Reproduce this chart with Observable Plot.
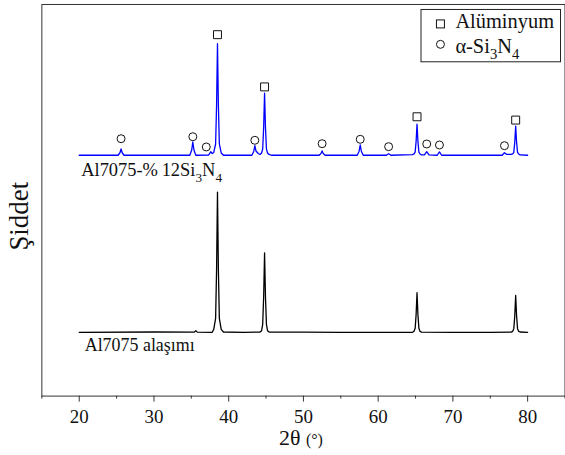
<!DOCTYPE html>
<html>
<head>
<meta charset="utf-8">
<script src="https://cdn.jsdelivr.net/npm/d3@7"></script>
<script src="https://cdn.jsdelivr.net/npm/@observablehq/plot@0.6"></script>
<style>
  html, body { margin: 0; padding: 0; background: #fff; overflow: hidden; }
  svg { display: block; }
  svg, svg text, svg tspan { font-family: "Liberation Serif", "Times New Roman", Tinos !important; }
</style>
</head>
<body>
<div id="chart"></div>
<script>
// ---- Data ----
// Al7075 alloy (black pattern)
const alloyAngle = [20, 30, 35.4, 35.6, 35.8, 37.8, 38.0, 38.25, 38.38, 38.5, 38.62, 38.75, 39.0, 39.3,
  42, 44.2, 44.4, 44.55, 44.68, 44.8, 44.92, 45.05, 45.2, 45.4, 50, 55, 60,
  64.6, 64.8, 64.95, 65.08, 65.2, 65.32, 65.45, 65.6, 65.8, 70, 75,
  77.8, 78.0, 78.15, 78.28, 78.4, 78.52, 78.65, 78.8, 79.0, 80];
const alloyIntensity = [64, 64.3, 64.2, 65.6, 64.2, 64, 67, 78, 127, 204.7, 127, 78, 67, 64.3,
  64, 64.3, 65.6, 72, 100, 143.7, 100, 72, 65.6, 64.3, 64.2, 64, 64,
  64, 65, 68, 82, 103.7, 82, 68, 65, 64.2, 64, 64,
  64.2, 65, 67.7, 80.6, 101, 80.6, 67.7, 65, 64.3, 64];

// Al7075-%12Si3N4 composite (blue pattern)
const compAngle = [20, 25.2, 25.45, 25.6, 25.75, 26.0, 34.8, 35.05, 35.2, 35.35, 35.6,
  37.3, 37.6, 37.8, 38.0, 38.25, 38.38, 38.5, 38.62, 38.75, 39.0, 39.3,
  43.1, 43.35, 43.5, 43.65, 43.95, 44.2, 44.4, 44.55, 44.68, 44.8, 44.92, 45.05, 45.2, 45.4, 45.7,
  52.1, 52.35, 52.5, 52.65, 52.9, 57.2, 57.45, 57.6, 57.75, 58.0, 61.1, 61.4, 61.7,
  64.6, 64.8, 64.95, 65.08, 65.2, 65.32, 65.45, 65.6, 65.8, 66.2, 66.5, 66.8,
  67.9, 68.2, 68.5, 76.6, 76.9, 77.2, 77.8, 78.0, 78.15, 78.28, 78.4, 78.52, 78.65, 78.8, 79.0, 80];
const compIntensity = [241.7, 241.7, 244.2, 248, 244.2, 241.7, 241.7, 247, 255, 247, 241.7,
  241.9, 245.2, 243.5, 244.5, 253, 292, 353.7, 292, 253, 244, 241.7,
  241.7, 245.5, 251.3, 246, 243.5, 242.5, 244, 248, 269.7, 304, 269.7, 248, 244, 242.5, 241.7,
  241.7, 243.4, 246, 243.4, 241.7, 241.7, 245.8, 252, 245.8, 241.7, 241.7, 243.2, 241.7,
  242.3, 243, 244.8, 255.8, 273, 255.8, 244.8, 243, 242, 242, 245.3, 242,
  241.7, 245, 241.7, 241.7, 244.3, 242.5, 242.5, 243, 244.6, 254.9, 271, 254.9, 244.6, 243, 242, 241.7];

// Phase markers
const aluminiumAngle = [38.5, 44.8, 65.2, 78.4];
const aluminiumLevel = [362.7, 310.3, 280.3, 277];
const nitrideAngle = [25.6, 35.2, 37.0, 43.5, 52.5, 57.6, 61.4, 66.5, 68.2, 76.9];
const nitrideLevel = [258.3, 260.3, 250, 256.7, 253.3, 257.7, 250.3, 253, 252, 251.3];

// Axis ticks
const majorTicks = [20, 30, 40, 50, 60, 70, 80];
const minorTicks = [15, 25, 35, 45, 55, 65, 75, 85];

// ---- Build ----
const alloy = alloyAngle.map((a, k) => ({a, i: alloyIntensity[k]}));
const comp = compAngle.map((a, k) => ({a, i: compIntensity[k]}));
const alu = aluminiumAngle.map((a, k) => ({a, i: aluminiumLevel[k]}));
const nit = nitrideAngle.map((a, k) => ({a, i: nitrideLevel[k]}));

const FONT = '"Liberation Serif", "Times New Roman", Tinos';
const INK = "#333";

const plot = Plot.plot({
  width: 567,
  height: 455,
  marginLeft: 41.5,
  marginRight: 0.5,
  marginTop: 4,
  marginBottom: 58,
  style: {fontFamily: FONT, fontSize: "19px", background: "#fff", color: "#000"},
  x: {domain: [15, 85], label: null},
  y: {domain: [0, 393], axis: null},
  marks: [
    Plot.frame({stroke: INK, strokeWidth: 1}),
    Plot.axisX(minorTicks, {tickSize: 3, tickFormat: () => "", stroke: INK, label: null}),
    Plot.axisX(majorTicks, {tickSize: 6, tickPadding: 7, fontSize: 19, stroke: INK, fill: "#111", label: null}),
    Plot.line(alloy, {x: "a", y: "i", stroke: "#000", strokeWidth: 1.3}),
    Plot.line(comp, {x: "a", y: "i", stroke: "#0000ff", strokeWidth: 1.3}),
    Plot.dot(alu, {x: "a", y: "i", symbol: "square", r: 4.5, stroke: "#111", fill: "#fff", strokeWidth: 1}),
    Plot.dot(nit, {x: "a", y: "i", symbol: "circle", r: 4, stroke: "#111", fill: "#fff", strokeWidth: 1})
  ]
});

document.getElementById("chart").appendChild(plot);

const sx = plot.scale("x"), sy = plot.scale("y");
const svg = d3.select(plot);
svg.attr("font-family", FONT);

function richText(g, x, y, parts, size, anchor) {
  const t = g.append("text")
    .attr("x", x).attr("y", y)
    .attr("font-size", size)
    .attr("fill", "#111")
    .attr("text-anchor", anchor || "start");
  let shift = 0;
  parts.forEach(p => {
    const ts = t.append("tspan").text(p.t);
    const target = p.sub ? size * 0.3 : 0;
    if (target !== shift) { ts.attr("dy", target - shift); shift = target; }
    if (p.sub) ts.attr("font-size", size * 0.72);
    if (p.size) ts.attr("font-size", p.size);
  });
  return t;
}

// Series labels
richText(svg, sx.apply(compAngle[0]) + 2.5, sy.apply(compIntensity[0]) + 21.5,
  [{t: "Al7075-%\u200912Si"}, {t: "3", sub: true}, {t: "N"}, {t: "4", sub: true}], 18.5);
richText(svg, sx.apply(alloyAngle[0]) + 6, sy.apply(alloyIntensity[0]) + 19,
  [{t: "Al7075 alaşımı"}], 18);

// Axis titles
richText(svg, 280, 447, [{t: "2θ "}, {t: "(°)", size: 16}], 22);
svg.append("text")
  .attr("transform", "translate(28,217) rotate(-90)")
  .attr("text-anchor", "middle")
  .attr("font-size", 27)
  .attr("fill", "#111")
  .text("Şiddet");

// Legend
const lg = svg.append("g");
lg.append("rect").attr("x", 422.5).attr("y", 9.5).attr("width", 140).attr("height", 52.5)
  .attr("fill", "#fff").attr("stroke", "#222").attr("stroke-width", 1);
lg.append("rect").attr("x", 438).attr("y", 20).attr("width", 8).attr("height", 8)
  .attr("fill", "#fff").attr("stroke", "#111");
lg.append("circle").attr("cx", 442).attr("cy", 44.5).attr("r", 4)
  .attr("fill", "#fff").attr("stroke", "#111");
richText(lg, 457, 28.5, [{t: "Alüminyum"}], 20.5);
richText(lg, 457, 53, [{t: "α-Si"}, {t: "3", sub: true}, {t: "N"}, {t: "4", sub: true}], 20.5);

svg.selectAll("text").attr("font-family", FONT);
</script>
</body>
</html>
